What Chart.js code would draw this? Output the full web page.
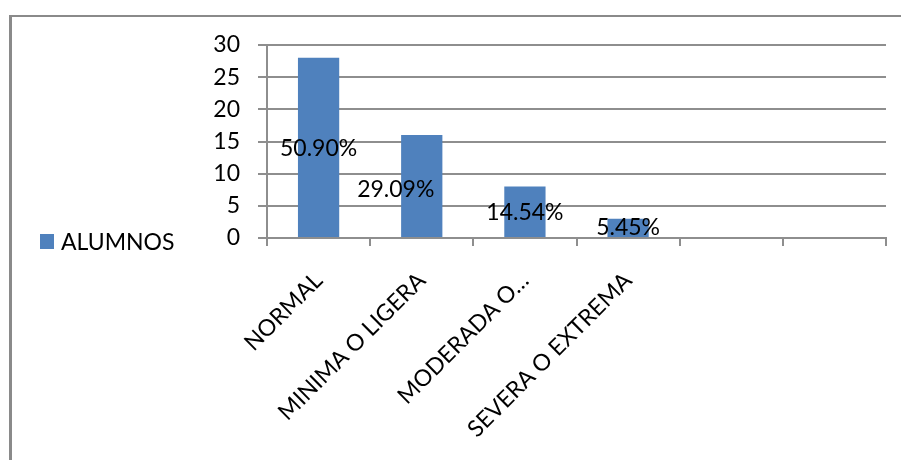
<!DOCTYPE html>
<html>
<head>
<meta charset="utf-8">
<script src="https://cdn.jsdelivr.net/npm/chart.js@4"></script>
<style>
  html, body { margin: 0; padding: 0; background: #fff; overflow: hidden; }
  #frame {
    position: absolute; left: 9px; top: 15px; width: 960px; height: 500px;
    border-left: 3px solid #8a8a8a; border-top: 2px solid #8a8a8a;
  }
  #wrap { position: absolute; left: 0; top: 0; width: 901px; height: 460px; }
</style>
</head>
<body>
<div id="frame"></div>
<div id="wrap"><canvas id="c" width="901" height="460"></canvas></div>
<script>
// Categories, counts and the percentage shown on each bar
const categories = ['NORMAL', 'MINIMA O LIGERA', 'MODERADA O…', 'SEVERA O EXTREMA', '', ''];
const alumnos = [28, 16, 8, 3, null, null];
const percentLabels = ['50.90%', '29.09%', '14.54%', '5.45%'];
const seriesName = 'ALUMNOS';
const yTicks = { min: 0, max: 30, step: 5 };

const FONT = 'Lato, "Liberation Sans", sans-serif';
const FONT_SIZE = 23;
const GRID = '#8e8e8e';
const BAR = '#4f81bd';

// Percentage text in the middle of each bar
const barValueLabels = {
  id: 'barValueLabels',
  afterDatasetsDraw(chart, args, opts) {
    const ctx = chart.ctx;
    const meta = chart.getDatasetMeta(0);
    ctx.save();
    ctx.font = FONT_SIZE + 'px ' + FONT;
    ctx.fillStyle = '#000';
    ctx.textAlign = 'center';
    ctx.textBaseline = 'middle';
    meta.data.forEach((bar, i) => {
      const text = percentLabels[i];
      if (!text) return;
      const n = opts.nudge[i] || [0, 0];
      const p = bar.getProps(['x', 'y', 'base'], true);
      ctx.fillText(text, p.x + n[0], (p.y + p.base) / 2 + n[1]);
    });
    ctx.restore();
  }
};

// Single-entry legend on the left side
const sideLegend = {
  id: 'sideLegend',
  afterDraw(chart, args, opts) {
    const ctx = chart.ctx;
    const ds = chart.data.datasets[0];
    ctx.save();
    ctx.fillStyle = ds.backgroundColor;
    ctx.fillRect(opts.x, opts.y - 8, 14, 15);
    ctx.fillStyle = '#000';
    ctx.font = FONT_SIZE + 'px ' + FONT;
    ctx.textAlign = 'left';
    ctx.textBaseline = 'alphabetic';
    ctx.fillText(ds.label, opts.x + 21, opts.y + 8);
    ctx.restore();
  }
};

new Chart(document.getElementById('c'), {
  type: 'bar',
  data: {
    labels: categories,
    datasets: [{
      label: seriesName,
      data: alumnos,
      backgroundColor: BAR,
      borderWidth: 0,
      barPercentage: 0.4,
      categoryPercentage: 1.0
    }]
  },
  options: {
    responsive: false,
    animation: false,
    layout: { padding: { top: 45, right: 15, left: 0, bottom: 0 } },
    plugins: {
      legend: { display: false },
      tooltip: { enabled: false },
      barValueLabels: { nudge: [[0, 1], [-26, 4], [0, 1], [0, 0]] },
      sideLegend: { x: 40, y: 242 }
    },
    scales: {
      x: {
        afterFit(scale) { scale.height = 222; },
        grid: { display: true, drawOnChartArea: false, drawTicks: true, tickLength: 8, color: GRID, lineWidth: 2 },
        border: { display: true, color: GRID, width: 2 },
        ticks: {
          autoSkip: false, maxRotation: 45, minRotation: 45,
          color: '#000', font: { family: FONT, size: FONT_SIZE }, padding: 21
        }
      },
      y: {
        min: yTicks.min, max: yTicks.max,
        afterFit(scale) { scale.width = 267; },
        grid: { color: GRID, lineWidth: 2, tickLength: 9 },
        border: { display: true, color: GRID, width: 2 },
        ticks: {
          stepSize: yTicks.step, color: '#000', padding: 18,
          font: { family: FONT, size: FONT_SIZE }
        }
      }
    }
  },
  plugins: [barValueLabels, sideLegend]
});
</script>
</body>
</html>
